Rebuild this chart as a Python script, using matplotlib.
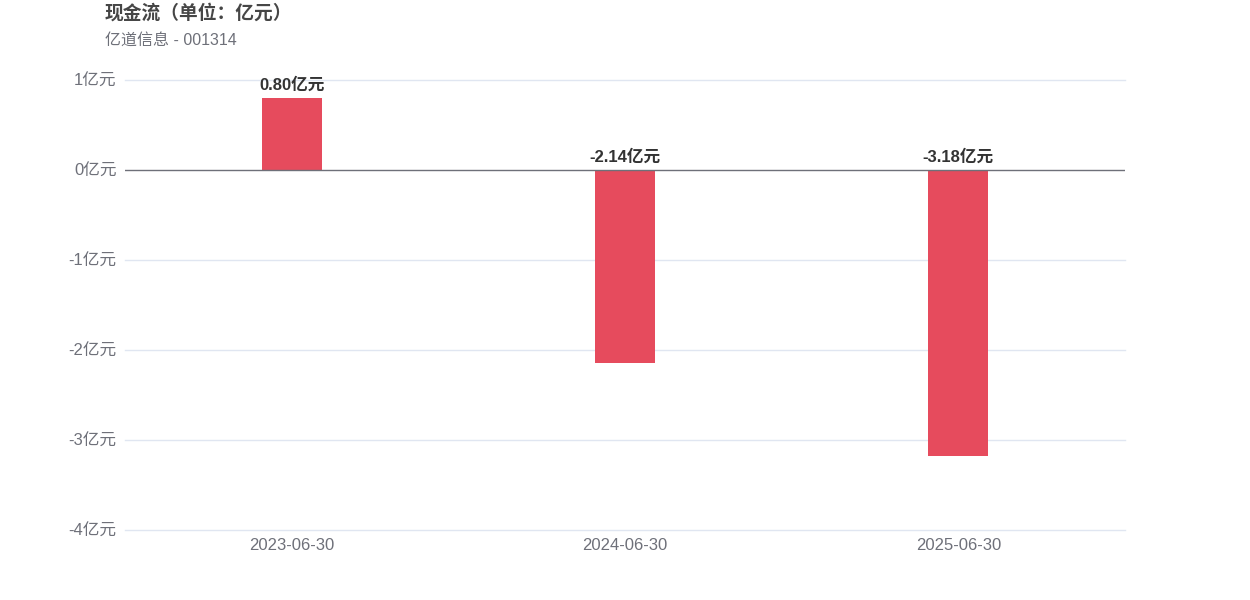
import matplotlib
matplotlib.use("Agg")
import matplotlib.pyplot as plt

categories = ["2023-06-30", "2024-06-30", "2025-06-30"]
values = [0.80, -2.14, -3.18]
yticks = [1, 0, -1, -2, -3, -4]
title = "现金流（单位：亿元）"
subtitle = "亿道信息 - 001314"

fam = ["Liberation Sans", "Noto Sans CJK SC", "DejaVu Sans"]
plt.rcParams["font.family"] = fam

fig = plt.figure(figsize=(12.5, 6), dpi=100)
ax = fig.add_axes([0.1, 1 - 530 / 600, 0.8, 450 / 600])

x = list(range(len(categories)))
ax.bar(x, values, width=0.18, color="#E64B5D", zorder=3)
ax.set_xlim(-0.5, len(categories) - 0.5)
ax.set_ylim(-4, 1)

ax.set_yticks(yticks)
ax.set_yticklabels([f"{t}亿元" for t in yticks])
ax.set_xticks(x)
ax.set_xticklabels(categories)
ax.tick_params(axis="both", length=0, labelsize=12, colors="#6E7079")
ax.tick_params(axis="y", pad=6)
ax.tick_params(axis="x", pad=6)

for t in yticks:
    if t != 0:
        ax.axhline(t, color="#E0E6F1", lw=1, zorder=1, clip_on=False)
ax.axhline(0, color="#6E7079", lw=1, zorder=4)
for s in ax.spines.values():
    s.set_visible(False)

for xi, v in zip(x, values):
    ytxt = v if v > 0 else 0
    ax.annotate(f"{v:.2f}亿元", (xi, ytxt), xytext=(0, 4), textcoords="offset points",
                ha="center", va="bottom", fontsize=12, fontweight="bold", color="#333333")

fig.text(105 / 1250, 1 - 13 / 600, title, fontsize=13.5, fontweight="bold",
         color="#464646", va="center", ha="left")
fig.text(105 / 1250, 1 - 40 / 600, subtitle, fontsize=11.5, color="#6E7079",
         va="center", ha="left")

fig.savefig("out.png", dpi=100)
